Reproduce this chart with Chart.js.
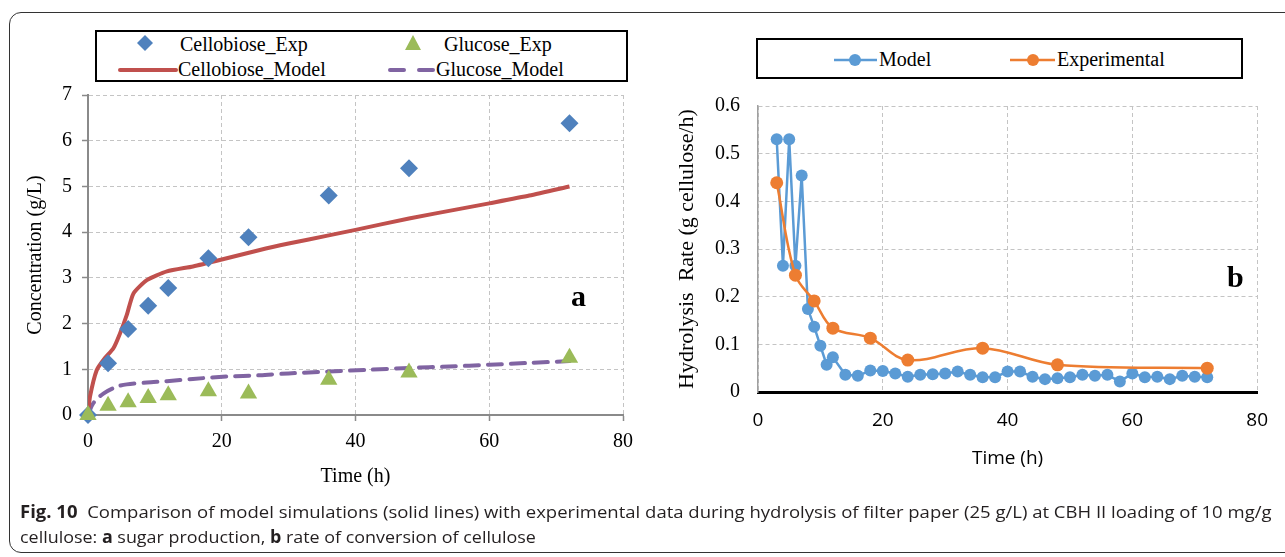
<!DOCTYPE html>
<html>
<head>
<meta charset="utf-8">
<script src="https://cdn.jsdelivr.net/npm/chart.js@4/dist/chart.umd.min.js"></script>
<style>
  body { margin: 0; background: #fff; width: 1285px; height: 557px; overflow: hidden; position: relative; }
  .frame { position: absolute; left: 9px; top: 12px; width: 1330px; height: 541px; border: 1px solid #333; border-radius: 12px; box-sizing: border-box; }
  canvas { position: absolute; top: 0; }
  #chartA { left: 0; }
  #chartB { left: 650px; }
  .legend { position: absolute; border: 2px solid #000; box-sizing: border-box; background: #fff; }
  .lg { position: absolute; font: 20px "Liberation Serif", serif; line-height: 24px; color: #000; white-space: nowrap; }
  .tag { position: absolute; font: bold 30px "Liberation Serif", serif; line-height: 30px; color: #000; }
  svg { position: absolute; left: 0; top: 0; overflow: visible; }
  .cap { position: absolute; left: 20px; font: 17px "Open Sans", sans-serif; color: #231f20; white-space: nowrap; transform-origin: 0 0; line-height: 20px; }
</style>
</head>
<body>
<div class="frame"></div>

<canvas id="chartA" width="650" height="500"></canvas>
<canvas id="chartB" width="635" height="500"></canvas>

<!-- legend a -->
<div class="legend" style="left:95px;top:30px;width:533px;height:52px;"></div>
<div class="lg" style="left:180px;top:32px;">Cellobiose_Exp</div>
<div class="lg" style="left:444px;top:32px;">Glucose_Exp</div>
<div class="lg" style="left:178px;top:57px;">Cellobiose_Model</div>
<div class="lg" style="left:436px;top:57px;">Glucose_Model</div>
<!-- legend b -->
<div class="legend" style="left:756px;top:38px;width:487px;height:41px;"></div>
<div class="lg" style="left:879px;top:47px;">Model</div>
<div class="lg" style="left:1057px;top:47px;">Experimental</div>

<svg width="1285" height="557">
  <polygon points="145,35 153,43 145,51 137,43" fill="#4F81BD"/>
  <polygon points="413,35 421,50 405,50" fill="#9BBB59"/>
  <line x1="120" y1="70" x2="176" y2="70" stroke="#C0504D" stroke-width="4" stroke-linecap="round"/>
  <line x1="390" y1="70" x2="434" y2="70" stroke="#8064A2" stroke-width="4" stroke-dasharray="14,15" stroke-linecap="round"/>
  <line x1="834" y1="60" x2="877" y2="60" stroke="#5B9BD5" stroke-width="2.5"/>
  <circle cx="855" cy="60" r="6" fill="#5B9BD5"/>
  <line x1="1010" y1="60" x2="1055" y2="60" stroke="#ED7D31" stroke-width="2.5"/>
  <circle cx="1033" cy="60" r="6" fill="#ED7D31"/>
</svg>

<div class="tag" style="left:571px;top:281px;">a</div>
<div class="tag" style="left:1227px;top:262px;">b</div>

<div class="cap" id="cap1" style="top:502px;"><b>Fig. 10</b>&nbsp; Comparison of model simulations (solid lines) with experimental data during hydrolysis of filter paper (25 g/L) at CBH II loading of 10 mg/g</div>
<div class="cap" id="cap2" style="top:527px;">cellulose: <b>a</b> sugar production, <b>b</b> rate of conversion of cellulose</div>

<script>
// ---- panel a: sugar production ----
const expTime = [0, 3, 6, 9, 12, 18, 24, 36, 48, 72];
const cellobioseExp = [0, 1.13, 1.88, 2.39, 2.78, 3.43, 3.89, 4.8, 5.4, 6.38];
const glucoseExp = [0, 0.2, 0.28, 0.37, 0.43, 0.52, 0.47, 0.77, 0.93, 1.25];

const cellModelTime = [0, 0.3, 1.3, 2.5, 3.8, 4.8, 5.8, 6.8, 8.8, 11.8, 15.7, 19.7, 25.7, 30, 36, 40, 48, 56, 60, 66, 72];
const cellobioseModel = [0, 0.4, 0.98, 1.24, 1.46, 1.79, 2.19, 2.66, 2.95, 3.14, 3.25, 3.39, 3.61, 3.75, 3.93, 4.05, 4.3, 4.52, 4.63, 4.8, 5.0];

const glucModelTime = [0, 0.8, 2.3, 4.3, 5.8, 8.8, 11.8, 15.7, 20.7, 25.7, 30, 36, 42, 48, 54, 60, 66, 72];
const glucoseModel = [0, 0.26, 0.47, 0.62, 0.67, 0.71, 0.74, 0.79, 0.84, 0.87, 0.91, 0.95, 0.99, 1.03, 1.06, 1.1, 1.14, 1.18];

// ---- panel b: hydrolysis rate ----
const rateModelTime = [3, 4, 5, 6, 7, 8, 9, 10, 11, 12, 14, 16, 18, 20, 22, 24, 26, 28, 30, 32, 34, 36, 38, 40, 42, 44, 46, 48, 50, 52, 54, 56, 58, 60, 62, 64, 66, 68, 70, 72];
const rateModel = [0.53, 0.265, 0.53, 0.265, 0.454, 0.174, 0.137, 0.097, 0.057, 0.073, 0.036, 0.034, 0.045, 0.044, 0.039, 0.032, 0.036, 0.037, 0.039, 0.043, 0.036, 0.031, 0.031, 0.043, 0.043, 0.032, 0.027, 0.029, 0.031, 0.036, 0.034, 0.036, 0.022, 0.039, 0.031, 0.032, 0.027, 0.034, 0.032, 0.031];
const rateExpTime = [3, 6, 9, 12, 18, 24, 36, 48, 72];
const rateExp = [0.439, 0.245, 0.191, 0.134, 0.113, 0.067, 0.092, 0.057, 0.05];

const xTicks = [0, 20, 40, 60, 80];

function pts(xs, ys) {
  return xs.map((x, i) => ({ x, y: ys[i] }));
}

const serif = '"Liberation Serif", serif';
const gridColor = '#c4c4c4';

new Chart(document.getElementById('chartA'), {
  type: 'scatter',
  data: {
    datasets: [
      { label: 'Cellobiose_Exp', order: 1, data: pts(expTime, cellobioseExp), pointStyle: 'rectRot', pointRadius: 9, backgroundColor: '#4F81BD', borderWidth: 0, clip: false },
      { label: 'Glucose_Exp', order: 0, data: pts(expTime, glucoseExp), pointStyle: 'triangle', pointRadius: 10, backgroundColor: '#9BBB59', borderWidth: 0, clip: false },
      { label: 'Cellobiose_Model', order: 2, type: 'line', data: pts(cellModelTime, cellobioseModel), borderColor: '#C0504D', borderWidth: 4, pointRadius: 0, tension: 0.2, fill: false },
      { label: 'Glucose_Model', order: 3, type: 'line', data: pts(glucModelTime, glucoseModel), borderColor: '#8064A2', borderWidth: 4, borderDash: [14, 9], borderCapStyle: 'round', pointRadius: 0, tension: 0.3, fill: false }
    ]
  },
  options: {
    responsive: false,
    animation: false,
    layout: { padding: { left: 0, top: 95, right: 27, bottom: 0 } },
    plugins: { legend: { display: false }, tooltip: { enabled: false } },
    scales: {
      x: {
        type: 'linear', min: 0, max: 80,
        afterBuildTicks: s => { s.ticks = xTicks.map(v => ({ value: v })); },
        afterFit: s => { s.height = 85; },
        ticks: { color: '#000', font: { family: serif, size: 20 }, padding: 9 },
        grid: { color: gridColor, tickColor: '#8a8a8a', tickLength: 6, tickWidth: 1.5 },
        border: { color: '#8a8a8a', width: 2, dash: [4, 3] },
        title: { display: true, text: 'Time (h)', color: '#000', font: { family: serif, size: 20 }, padding: { top: 0, bottom: 11 } }
      },
      y: {
        min: 0, max: 7,
        ticks: { stepSize: 1, color: '#000', font: { family: serif, size: 20 }, padding: 10 },
        afterFit: s => { s.width = 88; },
        grid: { color: gridColor, tickColor: '#8a8a8a', tickLength: 6, tickWidth: 1.5 },
        border: { color: '#8a8a8a', width: 2, dash: [4, 3] },
        title: { display: true, text: 'Concentration (g/L)', color: '#000', font: { family: serif, size: 20 }, padding: { top: 24, bottom: 0 } }
      }
    }
  }
});

new Chart(document.getElementById('chartB'), {
  type: 'line',
  data: {
    datasets: [
      { label: 'Experimental', data: pts(rateExpTime, rateExp), borderColor: '#ED7D31', backgroundColor: '#ED7D31', borderWidth: 2.5, pointRadius: 6.5, pointBorderWidth: 0, tension: 0.35, fill: false },
      { label: 'Model', data: pts(rateModelTime, rateModel), borderColor: '#5B9BD5', backgroundColor: '#5B9BD5', borderWidth: 2.5, pointRadius: 6, pointBorderWidth: 0, tension: 0, fill: false }
    ]
  },
  options: {
    responsive: false,
    animation: false,
    layout: { padding: { left: 0, top: 106, right: 20, bottom: 0 } },
    plugins: { legend: { display: false }, tooltip: { enabled: false } },
    scales: {
      x: {
        type: 'linear', min: 0, max: 80,
        afterBuildTicks: s => { s.ticks = xTicks.map(v => ({ value: v })); },
        afterFit: s => { s.height = 108; },
        ticks: { color: '#000', font: { family: '"Open Sans", sans-serif', size: 19 }, padding: 17 },
        grid: { color: gridColor, drawTicks: false },
        border: { color: '#000', width: 3, dash: [4, 3] },
        title: { display: true, text: 'Time (h)', color: '#000', font: { family: '"Open Sans", sans-serif', size: 19 }, padding: { top: 0, bottom: 30 } }
      },
      y: {
        min: 0, max: 0.6,
        ticks: { stepSize: 0.1, color: '#000', font: { family: serif, size: 20 }, padding: 18, callback: v => (Math.round(v * 10) / 10).toString() },
        afterFit: s => { s.width = 108; },
        grid: { color: gridColor, drawTicks: false },
        border: { color: '#a0a0a0', width: 1.5, dash: [4, 3] },
        title: { display: true, text: 'Hydrolysis  Rate (g cellulose/h)', color: '#000', font: { family: serif, size: 22 }, padding: { top: 24, bottom: 0 } }
      }
    }
  }
});

// squeeze caption lines to the reference widths
function fitWidth(id, w) {
  const el = document.getElementById(id);
  el.style.transform = 'scaleX(' + (w / el.scrollWidth) + ')';
}
fitWidth('cap1', 1252);
fitWidth('cap2', 516);
</script>
</body>
</html>
